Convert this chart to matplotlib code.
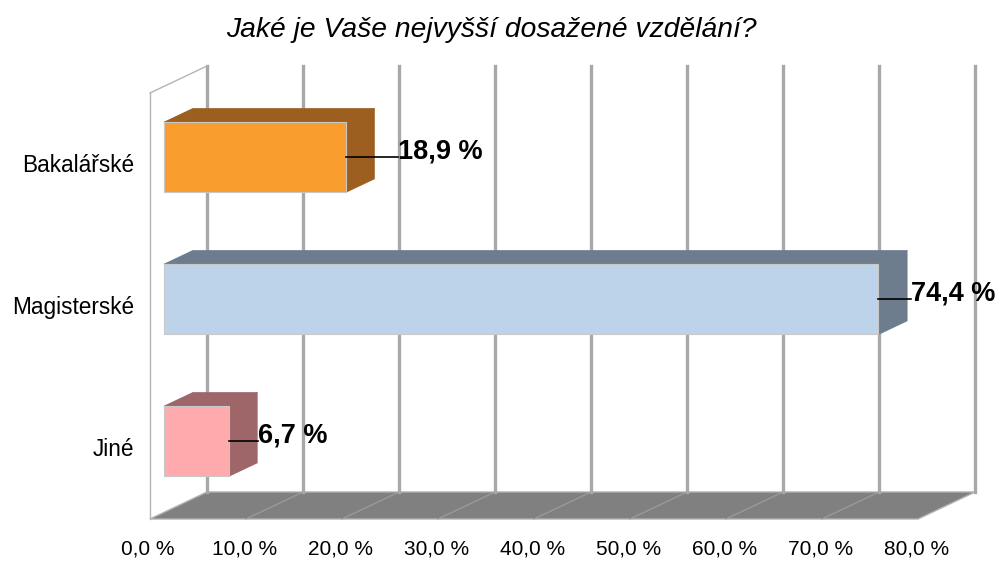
import matplotlib
matplotlib.use("Agg")
import matplotlib.pyplot as plt
from matplotlib.patches import Polygon
from matplotlib.lines import Line2D

plt.rcParams['font.family'] = ['Liberation Sans', 'DejaVu Sans']

# ---- data ----
categories = ["Bakalářské", "Magisterské", "Jiné"]
values = [18.9, 74.4, 6.7]
value_labels = ["18,9 %", "74,4 %", "6,7 %"]
ticks = [0, 10, 20, 30, 40, 50, 60, 70, 80]
tick_labels = ["0,0 %", "10,0 %", "20,0 %", "30,0 %", "40,0 %", "50,0 %", "60,0 %", "70,0 %", "80,0 %"]
title = "Jaké je Vaše nejvyšší dosažené vzdělání?"

# ---- style ----
front_cols = ["#F99D2F", "#BDD3E9", "#FFABAE"]
side_cols = ["#9C5F20", "#6E7D8E", "#9E6668"]
label_gap = [6.9, 4.9, 4.5]

W, H = 998, 561
fig = plt.figure(figsize=(W / 100, H / 100), dpi=100)
ax = fig.add_axes([0, 0, 1, 1])
ax.set_axis_off()

PX_PER_X = 9.6      # pixels per percent
PX_PER_Y = 142.0    # pixels per category
X0_PX = 150.0
Y0_PX = 164.0
ax.set_xlim(-X0_PX / PX_PER_X, (W - X0_PX) / PX_PER_X)
ax.set_ylim((H - Y0_PX) / PX_PER_Y, -Y0_PX / PX_PER_Y)

DX = 57.0 / PX_PER_X     # full depth offset in x-units
DY = -27.0 / PX_PER_Y    # full depth offset in y-units

def P(x, y, f):
    return (x + f * DX, y + f * DY)

n = len(categories)
y_top, y_floor = -0.5, n - 0.5
xmax = ticks[-1]

# floor
floor = Polygon([P(0, y_floor, 0), P(xmax, y_floor, 0), P(xmax, y_floor, 1), P(0, y_floor, 1)],
                closed=True, facecolor="#808080", edgecolor="#b0b0b0", lw=1.0, zorder=1)
ax.add_patch(floor)
for t in ticks[1:-1]:
    a, b = P(t, y_floor, 0), P(t, y_floor, 1)
    ax.add_line(Line2D([a[0], b[0]], [a[1], b[1]], color="#9c9c9c", lw=0.9, zorder=2))

# back wall gridlines
for t in ticks:
    a, b = P(t, y_floor, 1), P(t, y_top, 1)
    ax.add_line(Line2D([a[0], b[0]], [a[1], b[1]], color="#a8a8a8", lw=2.4, zorder=2))

# left wall edges
a, b = P(0, y_floor, 0), P(0, y_top, 0)
ax.add_line(Line2D([a[0], b[0]], [a[1], b[1]], color="#b4b4b4", lw=1.0, zorder=2))
c = P(0, y_top, 1)
ax.add_line(Line2D([b[0], c[0]], [b[1], c[1]], color="#b4b4b4", lw=1.0, zorder=2))

# bars
f0, fd = 0.25, 0.5
hh = 0.493 / 2
for i, (v, fc, sc) in enumerate(zip(values, front_cols, side_cols)):
    yt, yb = i - hh, i + hh
    top = Polygon([P(0, yt, f0), P(v, yt, f0), P(v, yt, f0 + fd), P(0, yt, f0 + fd)],
                  closed=True, facecolor=sc, edgecolor=sc, lw=0.8, zorder=4, joinstyle="round")
    side = Polygon([P(v, yt, f0), P(v, yb, f0), P(v, yb, f0 + fd), P(v, yt, f0 + fd)],
                   closed=True, facecolor=sc, edgecolor=sc, lw=0.8, zorder=4, joinstyle="round")
    front = Polygon([P(0, yt, f0), P(v, yt, f0), P(v, yb, f0), P(0, yb, f0)],
                    closed=True, facecolor=fc, edgecolor="#c8c8c8", lw=0.8, zorder=5, joinstyle="round")
    ax.add_patch(top)
    ax.add_patch(side)
    ax.add_patch(front)
    # leader line and value label
    lx, ly = P(v, i, f0)
    tx = v + label_gap[i]
    ax.add_line(Line2D([lx, tx], [ly, ly], color="black", lw=1.2, zorder=6))
    ax.text(tx, ly + 0.01, value_labels[i], ha="left", va="baseline",
            fontsize=19.5, fontweight="bold", color="black", zorder=7)

# category labels
for i, cat in enumerate(categories):
    ax.text(-16 / PX_PER_X, i + 0.01, cat, ha="right", va="center", fontsize=16.3, color="black")

# tick labels
for t, lab in zip(ticks, tick_labels):
    ax.text(t - 0.2, y_floor + 0.21, lab, ha="center", va="center", fontsize=15, color="black")

fig.text(491 / W, 1 - 30 / H, title, ha="center", va="center", fontsize=20.3,
         fontstyle="italic", color="black")

fig.savefig("out.png", dpi=100, facecolor="white")
